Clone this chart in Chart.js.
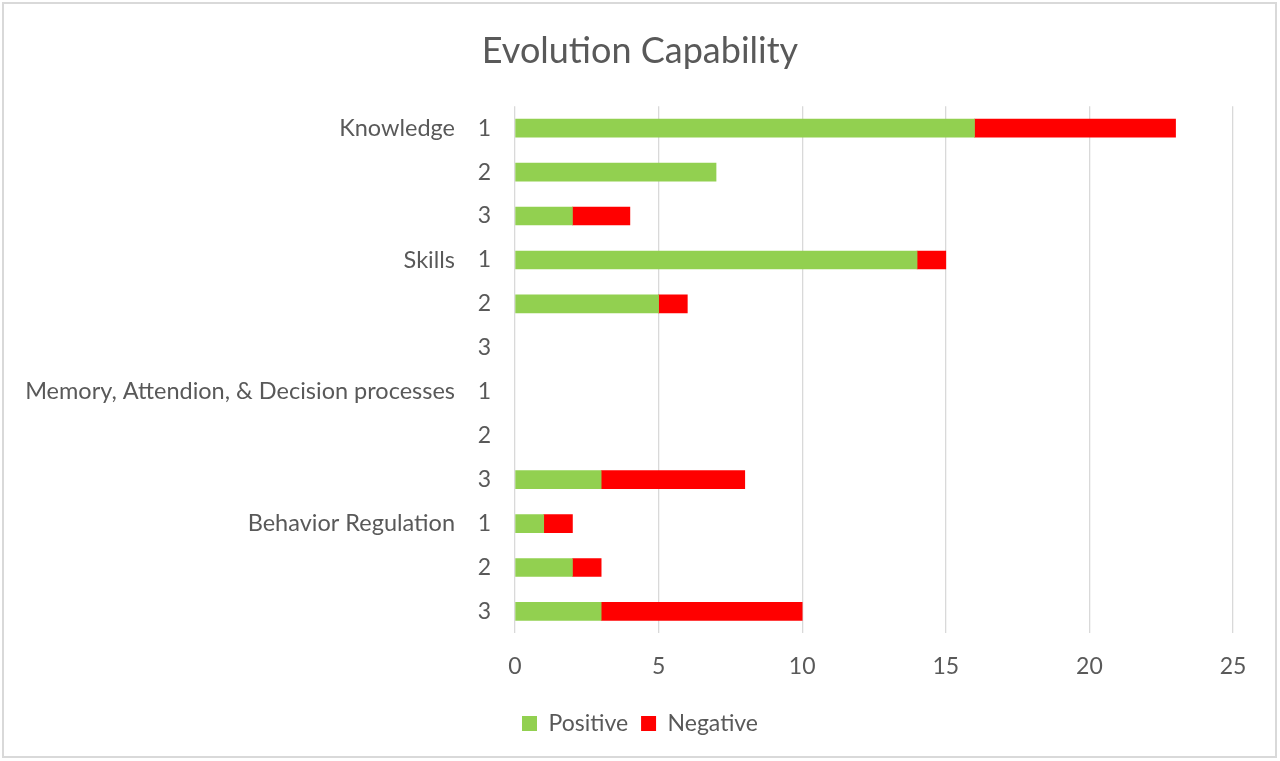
<!DOCTYPE html>
<html>
<head>
<meta charset="utf-8">
<script src="https://cdn.jsdelivr.net/npm/chart.js@4/dist/chart.umd.min.js"></script>
<style>
  html, body { margin: 0; padding: 0; background: #fff; }
  #wrap { position: relative; width: 1280px; height: 761px; }
  #frame { position: absolute; left: 2px; top: 2px; right: 3px; bottom: 3px; border: 2px solid #d9d9d9; pointer-events: none; }
</style>
</head>
<body>
<div id="wrap">
  <canvas id="capChart" width="1280" height="761"></canvas>
  <div id="frame"></div>
</div>
<script>
// Data
const groups = ["Knowledge", "Skills", "Memory, Attendion, & Decision processes", "Behavior Regulation"];
const levels = ["1", "2", "3"];
const positive = [16, 7, 2, 14, 5, null, null, null, 3, 1, 2, 3];
const negative = [7, null, 2, 1, 1, null, null, null, 5, 1, 1, 7];
const xTicks = [0, 5, 10, 15, 20, 25];

// Two-level category labels: inner = level, outer = group name on first row
const innerLabels = [];
const outerLabels = [];
groups.forEach(g => {
    levels.forEach((l, i) => {
        innerLabels.push(l);
        outerLabels.push(i === 0 ? g : "");
    });
});

const textColor = "#595959";
const fontFamily = "Lato, 'Open Sans', sans-serif";

const ctx = document.getElementById("capChart").getContext("2d");
new Chart(ctx, {
    type: "bar",
    data: {
        labels: innerLabels,
        datasets: [
            {
                label: "Positive",
                data: positive,
                backgroundColor: "#92D050",
                barThickness: 18,
                yAxisID: "y",
            },
            {
                label: "Negative",
                data: negative,
                backgroundColor: "#FF0000",
                barThickness: 18,
                yAxisID: "y",
            },
        ],
    },
    options: {
        indexAxis: "y",
        responsive: false,
        animation: false,
        layout: { padding: { left: 10, right: 10, top: 0, bottom: 16 } },
        scales: {
            x: {
                stacked: true,
                min: 0,
                max: 25,
                afterBuildTicks: axis => { axis.ticks = xTicks.map(v => ({ value: v })); },
                grid: { color: "#d9d9d9", lineWidth: 1.3, drawTicks: false },
                border: { display: false },
                ticks: { color: textColor, font: { family: fontFamily, size: 23 }, padding: 19 },
            },
            y: {
                stacked: true,
                position: "left",
                weight: 0,
                grid: { display: false, drawTicks: false },
                border: { display: false },
                ticks: { color: textColor, font: { family: fontFamily, size: 23 }, padding: 24, autoSkip: false },
                afterFit: axis => { axis.width = 50; },
            },
            y2: {
                type: "category",
                labels: outerLabels,
                position: "left",
                weight: 1,
                offset: true,
                grid: { display: false, drawTicks: false },
                border: { display: false },
                ticks: { color: textColor, font: { family: fontFamily, size: 23.5 }, padding: 10, autoSkip: false },
                afterFit: axis => { axis.width = 455; },
            },
            // empty right-hand spacer so the plot ends where the reference does
            yRight: {
                type: "category",
                labels: innerLabels,
                position: "right",
                grid: { display: false, drawTicks: false },
                border: { display: false },
                ticks: { display: false },
                afterFit: axis => { axis.width = 37; },
            },
        },
        plugins: {
            title: {
                display: true,
                text: "Evolution Capability",
                color: textColor,
                font: { family: fontFamily, size: 36, weight: "normal" },
                padding: { top: 30, bottom: 33 },
            },
            legend: {
                position: "bottom",
                labels: {
                    color: textColor,
                    font: { family: fontFamily, size: 23 },
                    boxWidth: 15,
                    boxHeight: 15,
                    padding: 13,
                },
            },
            tooltip: { enabled: false },
        },
    },
});
</script>
</body>
</html>
